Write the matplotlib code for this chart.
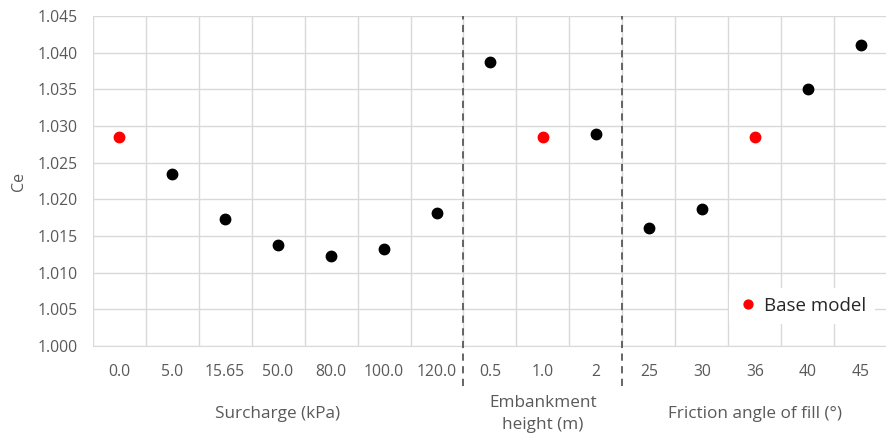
import matplotlib.pyplot as plt
from matplotlib.transforms import blended_transform_factory

plt.rcParams["font.family"] = ["Open Sans", "DejaVu Sans"]

# category tick labels, per group
surcharge = ["0.0", "5.0", "15.65", "50.0", "80.0", "100.0", "120.0"]
embankment = ["0.5", "1.0", "2"]
friction = ["25", "30", "36", "40", "45"]

# Ce values
ce_surcharge = [1.0285, 1.0235, 1.0173, 1.0138, 1.0123, 1.0132, 1.0181]
ce_embankment = [1.0387, 1.0285, 1.0289]
ce_friction = [1.0161, 1.0187, 1.0285, 1.0350, 1.0410]

# base-model category per group
base_labels = [("surcharge", "0.0"), ("embankment", "1.0"), ("friction", "36")]

group_titles = ["Surcharge (kPa)", "Embankment\nheight (m)", "Friction angle of fill (°)"]

labels = surcharge + embankment + friction
values = ce_surcharge + ce_embankment + ce_friction
groups = (["surcharge"] * len(surcharge) + ["embankment"] * len(embankment)
          + ["friction"] * len(friction))

x = list(range(len(labels)))
is_base = [(g, l) in base_labels for g, l in zip(groups, labels)]

fig = plt.figure(figsize=(8.87, 4.34), dpi=100)
ax = fig.add_axes([0.1044, 0.2028, 0.896, 0.7604])

gray_text = "#595959"
grid_col = "#d9d9d9"

xb = [xi for xi, b in zip(x, is_base) if not b]
yb = [v for v, b in zip(values, is_base) if not b]
xr = [xi for xi, b in zip(x, is_base) if b]
yr = [v for v, b in zip(values, is_base) if b]

ax.plot(xb, yb, "o", color="black", markersize=7.5, zorder=3)
ax.plot(xr, yr, "o", color="#ff0000", markersize=7.5, zorder=3, label="Base model")

ax.set_xlim(-0.5, len(labels) - 0.5)
ax.set_ylim(1.000, 1.045)
ax.set_yticks([1.000 + 0.005 * i for i in range(10)])
ax.set_yticklabels([f"{1.000 + 0.005 * i:.3f}" for i in range(10)])
ax.set_xticks(x)
ax.set_xticklabels(labels)
ax.set_xticks([i - 0.5 for i in range(len(labels) + 1)], minor=True)

ax.grid(True, which="minor", axis="x", color=grid_col, linewidth=1)
ax.grid(True, which="major", axis="y", color=grid_col, linewidth=1)
ax.tick_params(which="both", length=0)
ax.tick_params(axis="both", labelsize=11.3, labelcolor=gray_text)
ax.tick_params(axis="x", pad=13)
ax.tick_params(axis="y", pad=11)
ax.set_axisbelow(True)

for s in ["top", "right", "left"]:
    ax.spines[s].set_visible(False)
ax.spines["bottom"].set_color(grid_col)

ax.set_ylabel("Ce", fontsize=11.5, color=gray_text, labelpad=7)

# dashed separators between groups
n1 = len(surcharge)
n2 = n1 + len(embankment)
for sep in [n1 - 0.5, n2 - 0.5]:
    ax.axvline(sep, ymin=-0.12, ymax=1, color="#595959", linestyle=(0, (4, 3)),
               linewidth=1.3, clip_on=False, zorder=4)

# group titles below tick labels
trans = blended_transform_factory(ax.transData, ax.transAxes)
centers = [(n1 - 1) / 2, (n1 + n2 - 1) / 2, (n2 + len(labels) - 1) / 2]
for c, t in zip(centers, group_titles):
    ax.text(c, -0.205, t, transform=trans, ha="center", va="center",
            fontsize=12.3, color=gray_text, linespacing=1.5)

leg = ax.legend(loc="center", bbox_to_anchor=(0.893, 0.121), fontsize=13.5,
                frameon=True, framealpha=1, handletextpad=0.35, borderpad=0.5,
                handlelength=1.0, markerscale=0.85)
leg.get_frame().set_edgecolor("none")
leg.get_frame().set_facecolor("white")
for t in leg.get_texts():
    t.set_color("#262626")

fig.savefig("out.png", dpi=100)
